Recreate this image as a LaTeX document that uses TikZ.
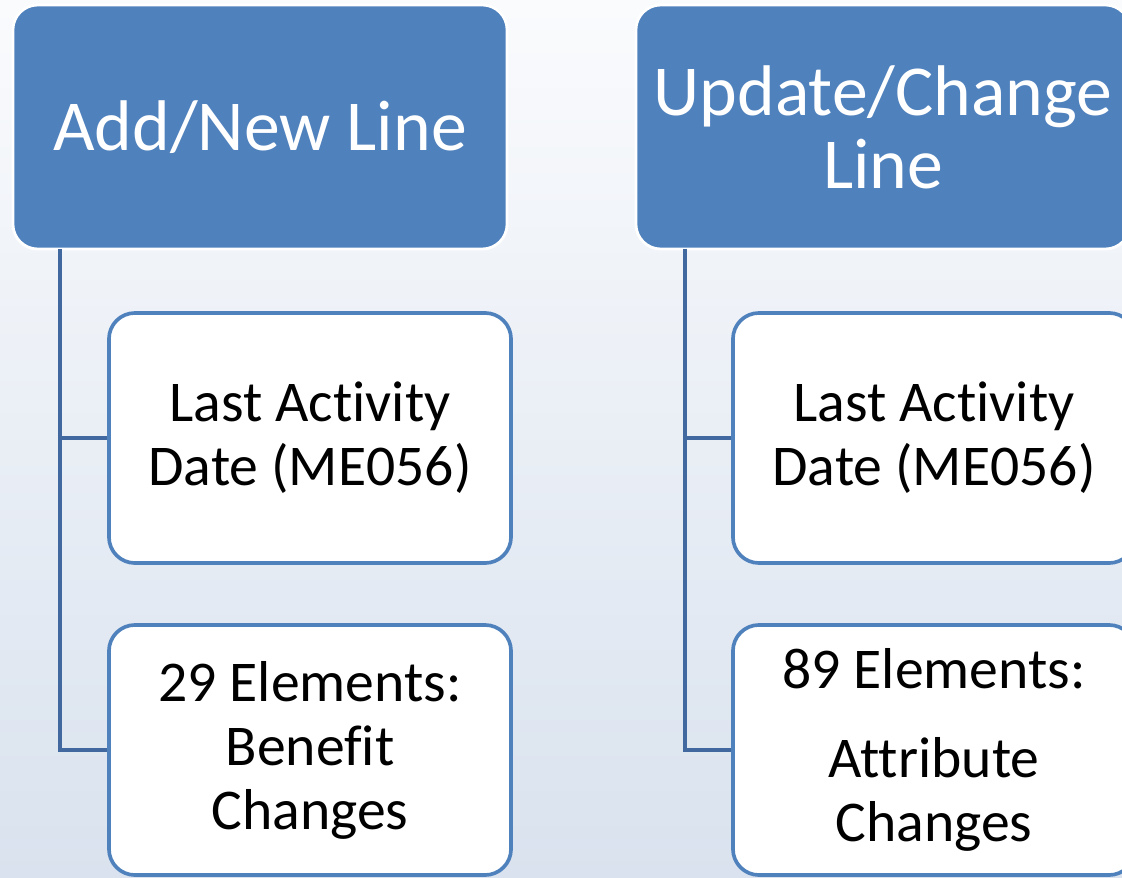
\documentclass[tikz,border=0pt]{standalone}
\usepackage{fontspec}
\setmainfont[RawFeature={-liga,-clig,-calt,-dlig}]{Carlito}
\usepackage{tikz}
\definecolor{headblue}{HTML}{4F81BD}
\definecolor{linkblue}{HTML}{41699F}
\definecolor{bgtop}{HTML}{FAFBFD}
\definecolor{bgbottom}{HTML}{D9E2EE}

\begin{document}
\begin{tikzpicture}[x=0.025cm,y=-0.025cm,
  headbox/.style={fill=headblue,draw=white,line width=2pt,rounded corners=0.62cm,
    minimum width=12.35cm,minimum height=6.1cm,text=white,align=center,
    font=\fontsize{51}{52}\selectfont},
  itembox/.style={fill=white,draw=headblue,line width=2.6pt,rounded corners=0.65cm,
    minimum width=10.05cm,minimum height=6.25cm,align=center,
    font=\fontsize{41}{45.5}\selectfont},
  link/.style={draw=linkblue,line width=3.3pt}]
\useasboundingbox (0,0) rectangle (1122,878);
\clip (0,0) rectangle (1122,878);
\shade[top color=bgtop,bottom color=bgbottom] (0,0) rectangle (1122,878);

\coordinate (addroot) at (60,249);
\coordinate (updroot) at (685,249);

\node[headbox] (addhead) at (260,127) {Add/New Line};
\node[headbox] (updhead) at (883,127) {Update/Change\\Line};

\node[itembox] (adddate) at (310,438) {Last Activity\\Date (ME056)};
\node[itembox] (addelem) at (310,750) {29 Elements:\\Benefit\\Changes};
\node[itembox] (upddate) at (934,438) {Last Activity\\Date (ME056)};
\node[itembox] (updelem) at (934,750) {89 Elements:\\[18pt]Attribute\\Changes};

\draw[link] (addroot) |- (addelem.west);
\draw[link] (addroot |- adddate.west) -- (adddate.west);
\draw[link] (updroot) |- (updelem.west);
\draw[link] (updroot |- upddate.west) -- (upddate.west);
\end{tikzpicture}
\end{document}
